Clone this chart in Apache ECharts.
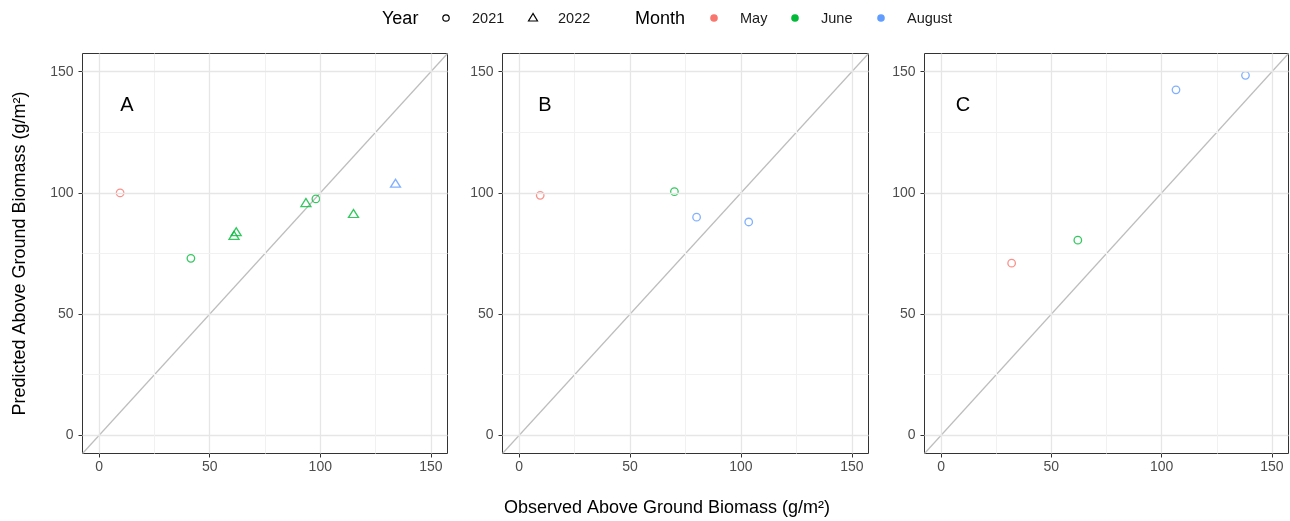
<!DOCTYPE html>
<html><head><meta charset="utf-8">
<script src="https://cdn.jsdelivr.net/npm/echarts@6/dist/echarts.min.js"></script>
<style>html,body{margin:0;padding:0;background:#fff}#c{width:1290px;height:521px}</style>
</head><body><div id="c"></div>
<script>
// ---- data ----
const panelLabels = ['A', 'B', 'C'];
const obsA = [9.5, 41.5, 61, 62, 93.5, 98, 115, 134];
const predA = [100, 73, 82.5, 84, 96, 97.5, 91.5, 104];
const yearA = ['2021', '2021', '2022', '2022', '2022', '2021', '2022', '2022'];
const monthA = ['May', 'June', 'June', 'June', 'June', 'June', 'June', 'August'];
const obsB = [9.5, 70, 80, 103.5];
const predB = [99, 100.5, 90, 88];
const yearB = ['2021', '2021', '2021', '2021'];
const monthB = ['May', 'June', 'August', 'August'];
const obsC = [32, 62, 106.5, 138];
const predC = [71, 80.5, 142.5, 148.5];
const yearC = ['2021', '2021', '2021', '2021'];
const monthC = ['May', 'June', 'August', 'August'];
const years = ['2021', '2022'];
const months = ['May', 'June', 'August'];
const monthColors = ['#F8766D', '#00BA38', '#619CFF'];
const tickValues = [0, 50, 100, 150];
const gridValues = [0, 25, 50, 75, 100, 125, 150];
const axisMin = -7.5, axisMax = 157.5;
const xTitle = 'Observed Above Ground Biomass (g/m²)';
const yTitle = 'Predicted Above Ground Biomass (g/m²)';

// ---- build ----
const FONT = '"Liberation Sans", Arial, sans-serif';
const panels = [
  {obs: obsA, pred: predA, year: yearA, month: monthA},
  {obs: obsB, pred: predB, year: yearB, month: monthB},
  {obs: obsC, pred: predC, year: yearC, month: monthC}
];
const boxes = [{left: 82.5, width: 365}, {left: 502.5, width: 366}, {left: 924.5, width: 364}];
const letterPos = [[127, 105], [545, 105], [963, 105]];

const grid = [], xAxis = [], yAxis = [], series = [], graphic = [];
panels.forEach((p, i) => {
  grid.push({left: boxes[i].left, width: boxes[i].width, top: 53.5, height: 400,
    show: true, borderColor: '#333333', borderWidth: 1, backgroundColor: 'transparent'});
  const common = {
    gridIndex: i, type: 'value', min: axisMin, max: axisMax,
    axisLine: {show: false, onZero: false},
    splitLine: {show: false},
    axisTick: {show: true, customValues: tickValues, length: 4, lineStyle: {color: '#333333', width: 1}},
    axisLabel: {customValues: tickValues, color: '#4d4d4d', fontSize: 14, fontFamily: FONT}
  };
  xAxis.push(Object.assign({}, common, {axisLabel: Object.assign({}, common.axisLabel, {margin: 7})}));
  const y = Object.assign({}, common, {axisLabel: Object.assign({}, common.axisLabel, {margin: 9})});
  if (i === 0) {
    y.name = yTitle; y.nameLocation = 'middle'; y.nameGap = 53;
    y.nameTextStyle = {fontSize: 18, color: '#000', fontFamily: FONT};
  }
  yAxis.push(y);

  // grid lines
  const gl = [];
  gridValues.forEach(v => {
    const major = v % 50 === 0;
    const ls = {color: major ? '#e6e6e6' : '#f1f1f1', width: major ? 1.3 : 1, type: 'solid'};
    gl.push({xAxis: v, lineStyle: ls});
    gl.push({yAxis: v, lineStyle: ls});
  });
  series.push({type: 'line', xAxisIndex: i, yAxisIndex: i, data: [], silent: true, z: 1,
    animation: false,
    markLine: {silent: true, symbol: 'none', label: {show: false}, animation: false, data: gl}});

  // 1:1 line
  series.push({type: 'line', xAxisIndex: i, yAxisIndex: i, silent: true, z: 2,
    data: [[axisMin, axisMin], [axisMax, axisMax]], showSymbol: false, symbol: 'none',
    lineStyle: {color: '#bdbdbd', width: 1.2}, animation: false});

  // points
  series.push({type: 'scatter', xAxisIndex: i, yAxisIndex: i, z: 3, animation: false,
    data: p.obs.map((x, k) => {
      const tri = p.year[k] === '2022';
      return {
        value: [x, p.pred[k]],
        symbol: tri ? 'triangle' : 'circle',
        symbolSize: tri ? [10, 8] : 7.5,
        itemStyle: {color: 'rgba(0,0,0,0)', borderColor: monthColors[months.indexOf(p.month[k])], borderWidth: 1.3}
      };
    })});

  graphic.push({type: 'text', x: letterPos[i][0], y: letterPos[i][1],
    style: {text: panelLabels[i], fontSize: 20, fill: '#000', fontFamily: FONT, align: 'center', verticalAlign: 'middle'}});
});

// x title
graphic.push({type: 'text', x: 667, y: 508,
  style: {text: xTitle, fontSize: 18, fill: '#000', fontFamily: FONT, align: 'center', verticalAlign: 'middle'}});

// legend
const LY = 19;
graphic.push({type: 'text', x: 382, y: LY, style: {text: 'Year', fontSize: 18, fill: '#000', fontFamily: FONT, verticalAlign: 'middle'}});
const yearIconX = [446, 533];
const yearTextX = [472, 558];
years.forEach((yr, k) => {
  if (k === 0) {
    graphic.push({type: 'circle', shape: {cx: yearIconX[k], cy: LY - 1, r: 3.2},
      style: {fill: 'none', stroke: '#000', lineWidth: 1.2}});
  } else {
    graphic.push({type: 'polygon', shape: {points: [[yearIconX[k], LY - 5.5], [yearIconX[k] - 4.5, LY + 2], [yearIconX[k] + 4.5, LY + 2]]},
      style: {fill: 'none', stroke: '#000', lineWidth: 1.2}});
  }
  graphic.push({type: 'text', x: yearTextX[k], y: LY, style: {text: yr, fontSize: 14.5, fill: '#1a1a1a', fontFamily: FONT, verticalAlign: 'middle'}});
});
graphic.push({type: 'text', x: 635, y: LY, style: {text: 'Month', fontSize: 18, fill: '#000', fontFamily: FONT, verticalAlign: 'middle'}});
const monthIconX = [714, 795, 881];
const monthTextX = [740, 821, 907];
months.forEach((m, k) => {
  graphic.push({type: 'circle', shape: {cx: monthIconX[k], cy: LY - 1, r: 3.8}, style: {fill: monthColors[k]}});
  graphic.push({type: 'text', x: monthTextX[k], y: LY, style: {text: m, fontSize: 14.5, fill: '#1a1a1a', fontFamily: FONT, verticalAlign: 'middle'}});
});

const chart = echarts.init(document.getElementById('c'), null, {renderer: 'canvas'});
chart.setOption({backgroundColor: '#fff', animation: false, textStyle: {fontFamily: FONT},
  grid, xAxis, yAxis, series, graphic});
</script></body></html>
